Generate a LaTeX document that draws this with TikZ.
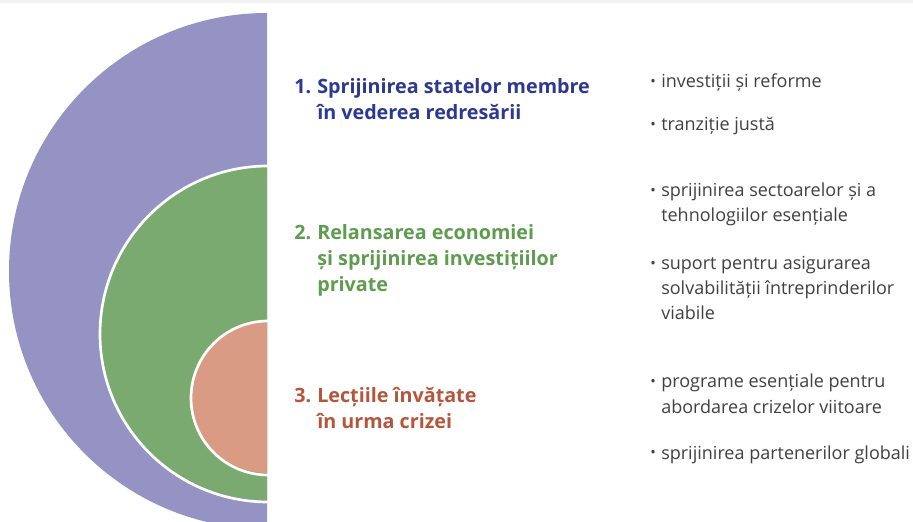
\documentclass[tikz,border=0pt]{standalone}
\usepackage{fontspec}
\setmainfont{Open Sans}
\definecolor{topgrey}{HTML}{F2F2F2}
\definecolor{ringpurple}{HTML}{9493C3}
\definecolor{ringgreen}{HTML}{7BAA70}
\definecolor{ringorange}{HTML}{D99B84}
\definecolor{titleblue}{HTML}{2B3990}
\definecolor{titlegreen}{HTML}{5E9C4E}
\definecolor{titlered}{HTML}{B5553C}
\definecolor{bodygrey}{HTML}{404040}
\newcommand{\num}[1]{\makebox[17.25pt][l]{#1}}
\newcommand{\hang}{\hspace*{17.25pt}}
\newcommand{\bul}{\makebox[8.25pt][l]{\raisebox{0.15ex}{\fontsize{11}{11}\selectfont\textbullet}}}
\newcommand{\bulhang}{\hspace*{8.25pt}}
\begin{document}
\begin{tikzpicture}[x=0.75pt, y=0.75pt,
    title/.style={anchor=base west, inner sep=0pt, align=left, font=\bfseries\fontsize{14.8}{19.5}\selectfont},
    point/.style={anchor=base west, inner sep=0pt, align=left, text=bodygrey, font=\fontsize{13.5}{18.75}\selectfont}]
    \useasboundingbox (0,0) rectangle (913,521);
    \fill[topgrey] (0,518) rectangle (913,521);
    % nested half discs
    \begin{scope}
        \clip (0,0) rectangle (913,518);
        \fill[ringpurple] (267,508) arc[start angle=90, end angle=270, radius=258] -- cycle;
    \end{scope}
    \fill[ringgreen] (267,355) arc[start angle=90, end angle=270, radius=167] -- cycle;
    \draw[white, line width=2pt] (268,355) arc[start angle=90, end angle=270, radius=168];
    \fill[ringorange] (267,200) arc[start angle=90, end angle=270, radius=76] -- cycle;
    \draw[white, line width=2pt] (268,200) arc[start angle=90, end angle=270, radius=77];
    % titles (anchored at the baseline of their last line)
    \node[title, text=titleblue] (recovery) at (294,401) {\num{1.}Sprijinirea statelor membre\\ \hang în vederea redresării};
    \node[title, text=titlegreen] (economy) at (294,229) {\num{2.}Relansarea economiei\\ \hang și sprijinirea investițiilor\\ \hang private};
    \node[title, text=titlered] (lessons) at (294,92) {\num{3.}Lecțiile învățate\\ \hang în urma crizei};
    % bullet points
    \node[point] (invest) at (650,433) {\bul investiții și reforme};
    \node[point] (transition) at (650,390) {\bul tranziție justă};
    \node[point] (sectors) at (650,299) {\bul sprijinirea sectoarelor și a\\ \bulhang tehnologiilor esențiale};
    \node[point] (solvency) at (650,201) {\bul suport pentru asigurarea\\ \bulhang solvabilității întreprinderilor\\ \bulhang viabile};
    \node[point] (programmes) at (650,108) {\bul programe esențiale pentru\\ \bulhang abordarea crizelor viitoare};
    \node[point] (partners) at (650,62) {\bul sprijinirea partenerilor globali};
\end{tikzpicture}
\end{document}
